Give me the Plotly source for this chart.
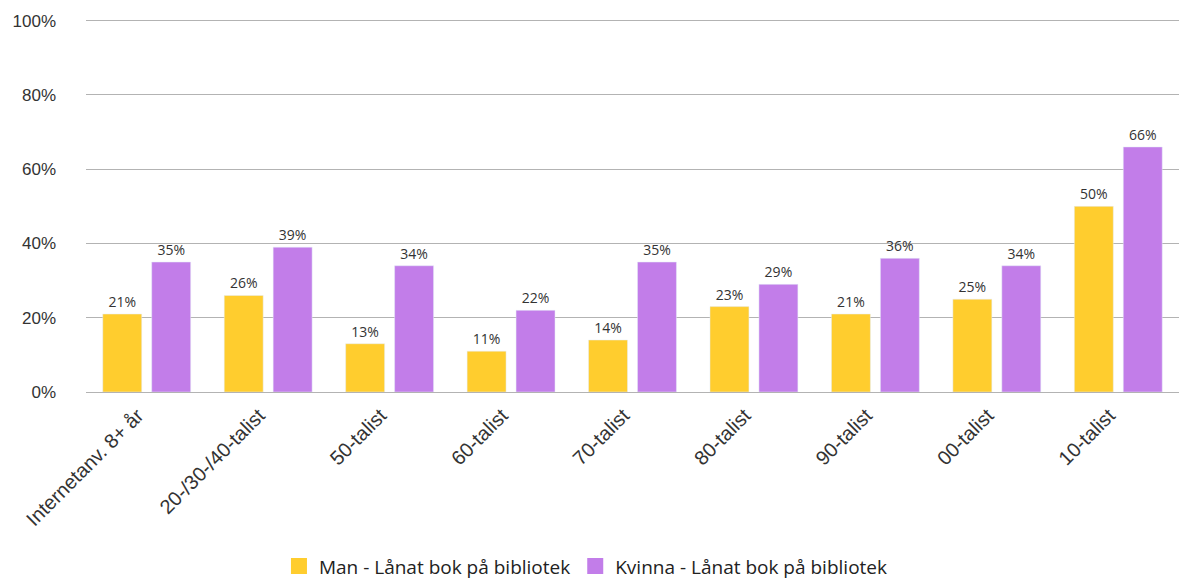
import plotly.graph_objects as go

categories = ["Internetanv. 8+ år", "20-/30-/40-talist", "50-talist", "60-talist",
              "70-talist", "80-talist", "90-talist", "00-talist", "10-talist"]
man = [21, 26, 13, 11, 14, 23, 21, 25, 50]
kvinna = [35, 39, 34, 22, 35, 29, 36, 34, 66]
series = [("Man - Lånat bok på bibliotek", man, "#FFCD2E"),
          ("Kvinna - Lånat bok på bibliotek", kvinna, "#C27DE9")]

fig = go.Figure()
for name, vals, color in series:
    fig.add_trace(go.Bar(
        x=categories, y=[v / 100 for v in vals], name=name, showlegend=False,
        marker_color=color, text=[f"{v}%" for v in vals], textposition="outside",
        textfont=dict(family="Open Sans, sans-serif", size=14, color="#333333"),
        cliponaxis=False,
    ))
# legend entries with large square swatches
for name, vals, color in series:
    fig.add_trace(go.Scatter(
        x=[categories[0]], y=[None], mode="markers", name=name,
        marker=dict(symbol="square", size=22, color=color),
    ))

fig.update_layout(
    width=1179, height=579,
    margin=dict(l=86, r=0, t=17, b=187),
    plot_bgcolor="white", paper_bgcolor="white",
    font=dict(family="Liberation Sans, Arial, sans-serif", size=17, color="#333333"),
    barmode="group", bargap=0.194, bargroupgap=0.204,
    showlegend=True,
    legend=dict(orientation="h", xref="container", x=0.497, xanchor="center",
                yref="container", y=0.022, yanchor="middle",
                font=dict(family="Open Sans, sans-serif", size=19, color="#222222"),
                itemsizing="trace"),
    yaxis=dict(range=[0, 1.01], tickformat=".0%", tickvals=[0, 0.2, 0.4, 0.6, 0.8, 1.0],
               showgrid=True, gridcolor="#b3b3b3", gridwidth=1, zeroline=False, ticks="",
               ticklabelstandoff=29, showline=False, automargin=False),
    xaxis=dict(tickangle=-45, showline=True, linecolor="#b3b3b3", linewidth=1,
               range=[-0.5, len(categories) - 0.5],
               ticks="", showgrid=False, automargin=False, tickfont=dict(size=20),
               ticklabelshift=-9, ticklabelstandoff=3),
)

fig.write_html("out.html", config={"displayModeBar": False},
               post_script="document.body.style.margin='0';")
